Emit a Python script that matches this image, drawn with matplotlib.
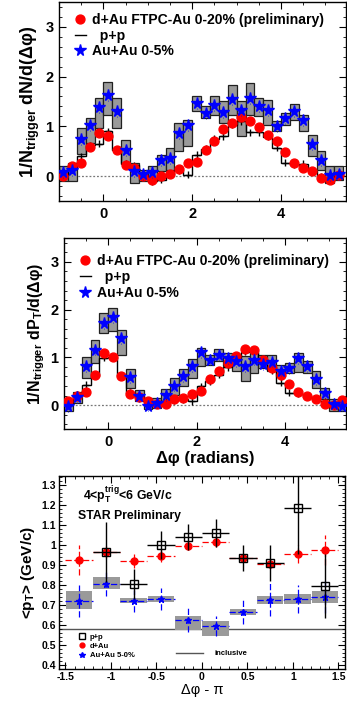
import numpy as np
import matplotlib
matplotlib.use('Agg')
import matplotlib.pyplot as plt
from matplotlib.lines import Line2D
from matplotlib.ticker import MultipleLocator

plt.rcParams.update({
    'font.family': ['Liberation Sans', 'DejaVu Sans'],
    'font.weight': 'bold',
    'axes.labelweight': 'bold',
    'mathtext.fontset': 'custom',
    'mathtext.rm': 'Liberation Sans:bold',
    'mathtext.it': 'Liberation Sans:bold',
    'mathtext.bf': 'Liberation Sans:bold',
    'axes.linewidth': 1.0,
    'xtick.direction': 'in', 'ytick.direction': 'in',
    'xtick.top': True, 'ytick.right': True,
})

C_RED = '#ff0000'
C_BLUE = '#0000ff'
C_BAND = '#9a9a9a'

# ── data: dihadron correlations, bin centres in radians ──────────────────
phi = [-0.9, -0.7, -0.5, -0.3, -0.1, 0.1, 0.3, 0.5, 0.7, 0.9, 1.1, 1.3, 1.5, 1.7, 1.9, 2.1,
       2.3, 2.5, 2.7, 2.9, 3.1, 3.3, 3.5, 3.7, 3.9, 4.1, 4.3, 4.5, 4.7, 4.9, 5.1, 5.3]

# dN/d(dphi)
dn_dau = [0.01, 0.20, 0.27, 0.59, 0.87, 0.80, 0.53, 0.23, 0.17, 0.01, -0.07, 0.00, 0.05, 0.15, 0.27, 0.28,
          0.53, 0.70, 0.95, 1.07, 1.19, 1.11, 0.98, 0.83, 0.70, 0.48, 0.27, 0.17, 0.10, -0.03, -0.07, 0.02]
dn_pp = [0.05, 0.14, 0.40, 0.62, 0.65, 0.90, 0.53, 0.25, 0.22, 0.03, -0.10, -0.07, 0.05, 0.12, 0.03, 0.43,
         0.55, 0.75, 0.80, 1.03, 1.10, 0.88, 0.88, 0.79, 0.57, 0.27, 0.23, 0.25, 0.10, 0.00, -0.07, 0.07]
dn_aa = [0.08, 0.12, 0.75, 1.02, 1.38, 1.63, 1.31, 0.52, 0.10, 0.05, 0.08, 0.32, 0.37, 0.87, 1.03, 1.47,
         1.27, 1.43, 1.29, 1.55, 1.33, 1.57, 1.40, 1.32, 1.00, 1.17, 1.30, 1.13, 0.65, 0.33, 0.03, 0.05]
dn_lo = [-0.10, -0.10, 0.45, 0.67, 0.97, 1.23, 0.97, 0.27, -0.13, -0.10, -0.10, 0.10, 0.13, 0.50, 0.60, 1.30,
         1.17, 1.23, 1.07, 1.23, 0.80, 1.23, 1.20, 1.03, 0.90, 1.03, 1.13, 0.90, 0.40, 0.13, -0.13, -0.07]
dn_hi = [0.20, 0.27, 0.97, 1.17, 1.57, 1.90, 1.57, 0.73, 0.27, 0.13, 0.20, 0.43, 0.57, 1.07, 1.13, 1.60,
         1.40, 1.60, 1.50, 1.83, 1.50, 1.87, 1.57, 1.53, 1.10, 1.27, 1.45, 1.23, 0.83, 0.50, 0.20, 0.20]

# dPT/d(dphi)
dp_dau = [0.08, 0.20, 0.27, 0.64, 1.09, 1.00, 0.62, 0.24, 0.17, 0.08, 0.03, 0.03, 0.12, 0.15, 0.24, 0.29,
          0.54, 0.71, 0.88, 1.02, 1.18, 1.16, 0.95, 0.78, 0.64, 0.45, 0.28, 0.19, 0.13, 0.03, 0.01, 0.10]
dp_pp = [0.05, 0.22, 0.43, 0.61, 0.99, 1.00, 0.61, 0.26, 0.19, 0.08, 0.05, 0.08, 0.10, 0.12, 0.08, 0.40,
         0.50, 0.64, 0.79, 1.00, 1.12, 1.12, 0.96, 0.73, 0.47, 0.26, 0.24, 0.17, 0.12, 0.08, 0.05, 0.07]
dp_aa = [-0.02, 0.17, 0.82, 1.16, 1.72, 1.84, 1.41, 0.59, 0.19, -0.01, 0.05, 0.21, 0.41, 0.61, 0.82, 1.11,
         0.95, 1.06, 0.99, 0.92, 0.82, 0.95, 0.86, 0.91, 0.72, 0.78, 0.98, 0.82, 0.54, 0.26, 0.03, -0.01]
dp_lo = [-0.13, 0.05, 0.57, 0.88, 1.51, 1.55, 1.06, 0.36, 0.08, -0.09, -0.06, 0.08, 0.22, 0.40, 0.57, 0.82,
         0.85, 0.92, 0.82, 0.71, 0.50, 0.68, 0.78, 0.71, 0.61, 0.68, 0.70, 0.68, 0.36, 0.12, -0.13, -0.13]
dp_hi = [0.13, 0.28, 1.00, 1.37, 1.93, 2.03, 1.58, 0.75, 0.31, 0.14, 0.15, 0.33, 0.57, 0.75, 0.96, 1.20,
         1.06, 1.17, 1.10, 1.06, 1.03, 1.10, 1.06, 1.06, 0.85, 0.89, 1.10, 0.92, 0.71, 0.35, 0.12, 0.08]

# <pT> of away-side associated particles
dphi_pi = [-1.35, -1.05, -0.75, -0.45, -0.15, 0.15, 0.45, 0.75, 1.05, 1.35]
mpt_pp = [np.nan, 0.965, 0.805, 1.000, 1.040, 1.062, 0.935, 0.908, 1.183, 0.793]
mpt_pp_err = [0.0, 0.15, 0.075, 0.07, 0.065, 0.07, 0.065, 0.09, 0.23, 0.16]
mpt_dau = [0.925, 0.965, 0.918, 0.947, 0.997, 1.015, 0.933, 0.905, 0.955, 0.977]
mpt_dau_err = [0.075, 0.03, 0.035, 0.03, 0.02, 0.025, 0.02, 0.02, 0.045, 0.075]
mpt_aa = [0.720, 0.807, 0.722, 0.730, 0.625, 0.595, 0.663, 0.727, 0.730, 0.738]
mpt_aa_err = [0.08, 0.06, 0.055, 0.057, 0.06, 0.05, 0.06, 0.082, 0.07, 0.08]
mpt_aa_lo = [0.680, 0.780, 0.710, 0.715, 0.575, 0.545, 0.650, 0.705, 0.705, 0.710]
mpt_aa_hi = [0.770, 0.840, 0.735, 0.745, 0.645, 0.620, 0.680, 0.745, 0.755, 0.770]
mpt_incl = 0.578

W = 0.2
DASH = (0, (5, 2))


def root_ticks(ax, maj_len=5, min_len=2.5):
    ax.tick_params(which='major', length=maj_len, width=0.8, direction='in', top=True, right=True)
    ax.tick_params(which='minor', length=min_len, width=0.6, direction='in', top=True, right=True)


def dist_panel(ax, dau, pp, aa, lo, hi, ylabel, ylsize, xlim, leg_anchor):
    x = np.array(phi)
    lo, hi = np.array(lo), np.array(hi)
    ax.axhline(0, color='#777777', ls=(0, (1.5, 1.5)), lw=0.9, zorder=1)
    ax.bar(x, hi - lo, bottom=lo, width=W, color=C_BAND, edgecolor='#202020', lw=0.9, zorder=2)
    edges = np.append(x - W / 2, x[-1] + W / 2)
    ax.stairs(pp, edges, color='k', lw=1.0, zorder=3)
    ax.errorbar(x, pp, xerr=0.07, yerr=0.07, fmt='none', ecolor='k', elinewidth=1.0, zorder=4)
    ax.plot(x, dau, 'o', color=C_RED, ms=6.4, mec=C_RED, zorder=5)
    eb = ax.errorbar(x, aa, yerr=0.12, fmt='none', ecolor=C_BLUE, elinewidth=0.6, zorder=5)
    eb[2][0].set_linestyle((0, (1, 2)))
    ax.plot(x, aa, '*', color=C_BLUE, ms=8.5, mec=C_BLUE, zorder=6)

    ax.set_xlim(*xlim)
    ax.set_ylim(-0.5, 3.5)
    ax.xaxis.set_major_locator(MultipleLocator(2))
    ax.xaxis.set_minor_locator(MultipleLocator(0.5))
    ax.yaxis.set_major_locator(MultipleLocator(1))
    ax.yaxis.set_minor_locator(MultipleLocator(0.2))
    root_ticks(ax)
    ax.tick_params(labelsize=10.5, pad=4)
    ax.set_ylabel(ylabel, fontsize=ylsize, labelpad=2)

    handles = [Line2D([], [], marker='o', ls='none', color=C_RED, ms=6.4),
               Line2D([], [], color='k', lw=1.0),
               Line2D([], [], marker='*', ls='none', color=C_BLUE, ms=8.5)]
    labels = ['d+Au FTPC-Au 0-20% (preliminary)', '  p+p', 'Au+Au 0-5%']
    ax.legend(handles, labels, loc='upper left', bbox_to_anchor=leg_anchor, frameon=False,
              fontsize=10.1, handlelength=0.8, handletextpad=0.45, labelspacing=0.12,
              borderaxespad=0, borderpad=0)


fig = plt.figure(figsize=(3.47, 7.01), dpi=100)

ax1 = fig.add_axes([0.170, 0.7133, 0.828, 0.2839])
dist_panel(ax1, dn_dau, dn_pp, dn_aa, dn_lo, dn_hi,
           '1/N$_{trigger}$ dN/d(Δφ)', 13, (-1.0, 5.47), (0.055, 0.945))

ax2 = fig.add_axes([0.1844, 0.388, 0.814, 0.2725])
dist_panel(ax2, dp_dau, dp_pp, dp_aa, dp_lo, dp_hi,
           '1/N$_{trigger}$ dP$_T$/d(Δφ)', 11.5, (-1.0, 5.39), (0.055, 0.915))
ax2.set_xlabel('Δφ (radians)', fontsize=12, labelpad=2)

# ── <pT> panel ───────────────────────────────────────────────────────────
ax3 = fig.add_axes([0.170, 0.0456, 0.824, 0.2753])
xp = np.array(dphi_pi)
ax3.axhline(mpt_incl, color='#555555', lw=1.0, zorder=1)
lo3, hi3 = np.array(mpt_aa_lo), np.array(mpt_aa_hi)
ax3.bar(xp, hi3 - lo3, bottom=lo3, width=0.29, color=C_BAND, edgecolor='none', zorder=2)
eb = ax3.errorbar(xp, mpt_aa, xerr=0.15, yerr=mpt_aa_err, fmt='*', color=C_BLUE, ms=5,
                  elinewidth=0.9, zorder=3)
eb[2][0].set_linestyle(DASH)
eb[2][1].set_linestyle(DASH)
eb = ax3.errorbar(xp, mpt_dau, xerr=0.15, yerr=mpt_dau_err, fmt='o', color=C_RED, ms=5,
                  elinewidth=0.9, zorder=4)
eb[2][0].set_linestyle(DASH)
eb[2][1].set_linestyle(DASH)
ax3.errorbar(xp, mpt_pp, xerr=0.15, yerr=mpt_pp_err, fmt='s', color='k', mfc='none', mec='k',
             mew=1.0, ms=5.5, elinewidth=1.0, zorder=5)

ax3.set_xlim(-np.pi / 2, np.pi / 2)
ax3.set_ylim(0.38, 1.345)
ax3.xaxis.set_major_locator(MultipleLocator(0.5))
ax3.xaxis.set_minor_locator(MultipleLocator(0.1))
ax3.yaxis.set_major_locator(MultipleLocator(0.1))
ax3.yaxis.set_minor_locator(MultipleLocator(0.02))
ax3.yaxis.set_major_formatter(plt.FuncFormatter(lambda v, p: f'{v:g}'))
ax3.xaxis.set_major_formatter(plt.FuncFormatter(lambda v, p: f'{v:g}'))
root_ticks(ax3, 5, 2.5)
ax3.tick_params(labelsize=7.5, pad=2)
ax3.set_ylabel('<p$_T$> (GeV/c)', fontsize=11, labelpad=3)
ax3.set_xlabel('Δφ - π', fontsize=10.5, fontweight='normal', labelpad=1)

ax3.text(0.085, 0.875, '4<p$_T^{trig}$<6 GeV/c', transform=ax3.transAxes, fontsize=8.8)
ax3.text(0.065, 0.775, 'STAR Preliminary', transform=ax3.transAxes, fontsize=8.8)

h3 = [Line2D([], [], marker='s', ls='none', mfc='none', mec='k', ms=4.5),
      Line2D([], [], marker='o', ls='none', color=C_RED, ms=3.5),
      Line2D([], [], marker='*', ls='none', color=C_BLUE, ms=4)]
ax3.legend(h3, ['p+p', 'd+Au', 'Au+Au 5-0%'], loc='lower left', bbox_to_anchor=(0.07, 0.05),
           frameon=False, fontsize=5.5, handlelength=0.8, handletextpad=0.6, labelspacing=0.25,
           borderaxespad=0, borderpad=0)
ax3.legend_.set_zorder(6)
ax3.add_artist(ax3.legend_)
ax3.legend([Line2D([], [], color='#555555', lw=1.0)], ['inclusive'], loc='lower left',
           bbox_to_anchor=(0.41, 0.06), frameon=False, fontsize=5.5, handlelength=3.5,
           handletextpad=1.5, borderaxespad=0, borderpad=0)

fig.savefig('out.png', dpi=100, facecolor='white')
